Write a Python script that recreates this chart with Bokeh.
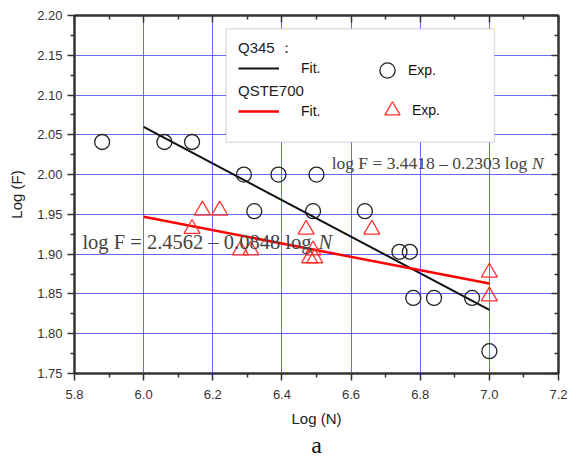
from bokeh.plotting import figure
from bokeh.models import (FixedTicker, LinearAxis, Legend, LegendItem, Label, Title,
                          BoxAnnotation, ColumnDataSource, PrintfTickFormatter)
from bokeh.embed import file_html
from bokeh.resources import INLINE

# ---- data ----
q345_x = [5.88, 6.06, 6.14, 6.29, 6.39, 6.50, 6.32, 6.49, 6.64, 6.74, 6.77, 6.78, 6.84, 6.95, 7.00]
q345_y = [2.041, 2.041, 2.041, 2.000, 2.000, 2.000, 1.954, 1.954, 1.954, 1.903, 1.903, 1.845, 1.845, 1.845, 1.778]
qste_x = [6.14, 6.17, 6.22, 6.28, 6.31, 6.47, 6.49, 6.48, 6.495, 6.66, 7.00, 7.00]
qste_y = [1.932, 1.955, 1.955, 1.905, 1.905, 1.931, 1.905, 1.895, 1.895, 1.931, 1.877, 1.847]
fit_x = [6.0, 7.0]
q345_fit = [2.060, 1.830]
qste_fit = [1.947, 1.863]

x_ticks = [5.8, 6.0, 6.2, 6.4, 6.6, 6.8, 7.0, 7.2]
x_minor = [5.9, 6.1, 6.3, 6.5, 6.7, 6.9, 7.1]
y_ticks = [1.75, 1.80, 1.85, 1.90, 1.95, 2.00, 2.05, 2.10, 2.15, 2.20]
y_minor = [1.775, 1.825, 1.875, 1.925, 1.975, 2.025, 2.075, 2.125, 2.175]

eq1_text = "log F = 3.4418 \u2013 0.2303 log"
eq2_text = "log F = 2.4562 \u2013 0.0848 log"

SANS = "Liberation Sans"
SERIF = "Liberation Serif"
AX = "#333333"

p = figure(width=568, height=459, x_range=(5.8, 7.2), y_range=(1.75, 2.20),
           output_backend="svg", toolbar_location=None,
           min_border_left=74, min_border_right=10, min_border_top=15, min_border_bottom=86,
           x_axis_label="Log (N)", y_axis_label="Log (F)")
p.background_fill_color = "white"
p.border_fill_color = "white"
p.outline_line_color = AX
p.outline_line_width = 2

xt = FixedTicker(ticks=x_ticks, minor_ticks=x_minor)
yt = FixedTicker(ticks=y_ticks, minor_ticks=y_minor)

for ax, t in ((p.xaxis[0], xt), (p.yaxis[0], yt)):
    ax.ticker = t
    ax.axis_line_color = AX
    ax.axis_line_width = 2
    ax.major_tick_line_color = AX
    ax.minor_tick_line_color = AX
    ax.major_tick_line_width = 1.5
    ax.minor_tick_line_width = 1.5
    ax.major_tick_in = 0
    ax.major_tick_out = 7
    ax.minor_tick_in = 0
    ax.minor_tick_out = 4
    ax.major_label_text_font = SANS
    ax.major_label_text_font_size = "13px"
    ax.major_label_text_color = "#333333"
    ax.axis_label_text_font = SANS
    ax.axis_label_text_font_size = "15px"
    ax.axis_label_text_font_style = "normal"
    ax.axis_label_text_color = "#222222"
p.xaxis[0].formatter = PrintfTickFormatter(format="%.1f")
p.yaxis[0].formatter = PrintfTickFormatter(format="%.2f")
p.xaxis[0].major_label_standoff = 9
p.yaxis[0].major_label_standoff = 5
p.xaxis[0].axis_label_standoff = 8
p.yaxis[0].axis_label_standoff = 9

for loc, t, ticks in (("above", xt, x_ticks), ("right", yt, y_ticks)):
    a = LinearAxis(ticker=t, major_label_overrides={v: "" for v in ticks},
                   major_label_standoff=0,
                   axis_line_color=AX, axis_line_width=2,
                   major_tick_line_color=AX, minor_tick_line_color=AX,
                   major_tick_line_width=1.5, minor_tick_line_width=1.5,
                   major_tick_in=7, major_tick_out=0, minor_tick_in=4, minor_tick_out=0)
    p.add_layout(a, loc)

p.xgrid.ticker = xt
p.ygrid.ticker = yt
p.grid.grid_line_color = "#4d4dff"
p.grid.grid_line_alpha = 0.85
p.grid.grid_line_width = 1

src_q = ColumnDataSource(dict(x=q345_x, y=q345_y))
src_s = ColumnDataSource(dict(x=qste_x, y=qste_y))
src_f = ColumnDataSource(dict(x=fit_x, a=q345_fit, b=qste_fit))

r_qfit = p.line("x", "a", source=src_f, line_color="#111111", line_width=2)
r_sfit = p.line("x", "b", source=src_f, line_color="#ff0000", line_width=2.5)
r_q = p.scatter("x", "y", source=src_q, marker="circle", size=15,
                line_color="#222222", line_width=1.3, fill_alpha=0)
r_s = p.scatter("x", "y", source=src_s, marker="triangle", size=16,
                line_color="#ff3030", line_width=1.3, fill_alpha=0)

# equations
p.add_layout(Label(x=7.1095, y=2.014, text=eq1_text, text_align="right", text_baseline="middle",
                   text_font=SERIF, text_font_size="17.5px", text_color="#444444"))
p.add_layout(Label(x=7.1234, y=2.014, text="N", text_align="left", text_baseline="middle",
                   text_font=SERIF, text_font_size="17.5px", text_font_style="italic", text_color="#444444"))
p.add_layout(Label(x=6.4856, y=1.915, text=eq2_text, text_align="right", text_baseline="middle",
                   text_font=SERIF, text_font_size="20.5px", text_color="#444444"))
p.add_layout(Label(x=6.5058, y=1.915, text="N", text_align="left", text_baseline="middle",
                   text_font=SERIF, text_font_size="20.5px", text_font_style="italic", text_color="#444444"))

# legend box
p.add_layout(BoxAnnotation(left=6.2386, right=7.0149, top=2.1833, bottom=2.0408,
                           fill_color="white", fill_alpha=1, line_color="#999999", line_width=1.5))

def mk_legend(title, items, loc, gw, gh, standoff, tstand=2):
    kw = dict(items=items, location=loc, orientation="horizontal",
              padding=0, margin=0, spacing=0, glyph_width=gw, glyph_height=gh,
              label_standoff=standoff, border_line_alpha=0, background_fill_alpha=0,
              label_text_font=SANS, label_text_font_size="14px", label_text_color="#111111")
    if title:
        kw.update(title=title, title_text_font=SANS, title_text_font_size="15px",
                  title_text_font_style="normal", title_text_color="#222222", title_standoff=tstand)
    p.add_layout(Legend(**kw))

mk_legend("Q345 \uff1a", [LegendItem(label="Fit.", renderers=[r_qfit])], (164, 295), 41, 20, 22, 0)
mk_legend(None, [LegendItem(label="Exp.", renderers=[r_q])], (294, 284), 38, 38, 2)
mk_legend("QSTE700", [LegendItem(label="Fit.", renderers=[r_sfit])], (164, 252), 41, 20, 22)
mk_legend(None, [LegendItem(label="Exp.", renderers=[r_s])], (299, 244), 38, 38, 1)

# panel caption
p.add_layout(Title(text="a", align="center", standoff=0, text_font=SERIF, text_font_size="24px",
                   text_font_style="normal", text_color="#111111"), "below")

open("out.html", "w").write(file_html(p, INLINE))
